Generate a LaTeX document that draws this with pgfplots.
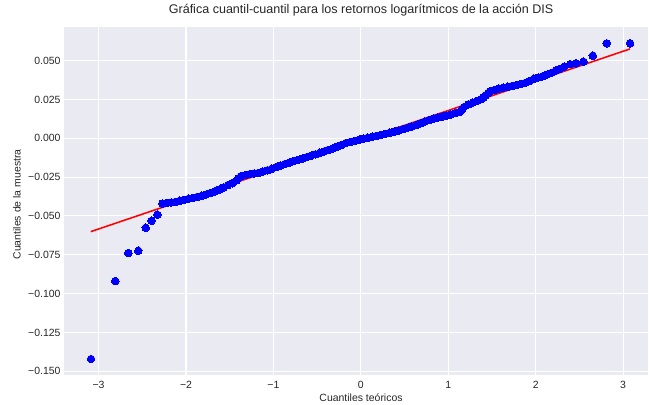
\documentclass[border=0pt]{standalone}
\usepackage{fontspec}
\setmainfont{Liberation Sans}
\usepackage{pgfplots}
\pgfplotsset{compat=1.18}
\definecolor{sbbg}{RGB}{234,234,242}
\definecolor{sbtext}{RGB}{38,38,38}
\begin{document}
\begin{tikzpicture}
\path (-64.5bp,-30bp) rectangle (584.5bp,375bp);
\begin{axis}[
  at={(0,0)}, anchor=south west,
  scale only axis, width=584bp, height=348bp,
  xmin=-3.39, xmax=3.29, ymin=-0.1524, ymax=0.0717,
  axis background/.style={fill=sbbg},
  axis line style={draw=none},
  major tick length=0pt,
  grid=major,
  major grid style={white, line width=1.05bp},
  xtick={-3,-2,-1,0,1,2,3},
  xticklabels={−3,−2,−1,0,1,2,3},
  ytick={-0.15,-0.125,-0.1,-0.075,-0.05,-0.025,0,0.025,0.05},
  yticklabels={−0.150,−0.125,−0.100,−0.075,−0.050,−0.025,0.000,0.025,0.050},
  tick label style={font=\fontsize{10.5}{12}\selectfont, text=sbtext},
  xticklabel style={anchor=north, inner sep=0pt, yshift=-6.5bp},
  yticklabel style={anchor=east, inner sep=0pt, xshift=-3.8bp},
  title={Gráfica cuantil-cuantil para los retornos logarítmicos de la acción DIS},
  title style={at={(axis description cs:0.5078,1)}, anchor=base, yshift=8bp, inner sep=0pt, font=\fontsize{12.6}{14}\selectfont, text=sbtext},
  xlabel={Cuantiles teóricos},
  xlabel style={at={(axis description cs:0.5078,0)}, anchor=base, yshift=-26.5bp, inner sep=0pt, font=\fontsize{10.5}{12}\selectfont, text=sbtext},
  ylabel={Cuantiles de la muestra},
  ylabel style={at={(axis description cs:-0.0751,0.49)}, anchor=base, rotate=0, inner sep=0pt, font=\fontsize{10.5}{12}\selectfont, text=sbtext},
  clip=true,
]
\addplot[blue, only marks, mark=*, mark size=3.8bp, mark options={solid, draw=blue, fill=blue, line width=0pt}] coordinates {
(-3.087,-0.1421) (-2.809,-0.0919) (-2.660,-0.0739) (-2.546,-0.0724)
(-2.461,-0.0576) (-2.393,-0.0531) (-2.328,-0.0492)
(-2.27,-0.0420) (-2.22,-0.0416) (-2.17,-0.0413) (-2.12,-0.0409)
(-2.07,-0.0402) (-2.02,-0.0396) (-1.97,-0.0389) (-1.92,-0.0383)
(-1.87,-0.0377) (-1.82,-0.0370) (-1.77,-0.0362) (-1.72,-0.0352)
(-1.67,-0.0341) (-1.62,-0.0330) (-1.57,-0.0316) (-1.52,-0.0301)
(-1.47,-0.0289) (-1.42,-0.0270) (-1.40,-0.0257) (-1.37,-0.0244)
(-1.32,-0.0236) (-1.27,-0.0230) (-1.22,-0.0226) (-1.17,-0.0222)
(-1.12,-0.0214) (-1.07,-0.0206) (-1.02,-0.0196) (-0.97,-0.0185)
(-0.92,-0.0176) (-0.87,-0.0166) (-0.82,-0.0157) (-0.77,-0.0147)
(-0.72,-0.0139) (-0.67,-0.0130) (-0.62,-0.0121) (-0.57,-0.0112)
(-0.52,-0.0103) (-0.47,-0.0093) (-0.42,-0.0084) (-0.37,-0.0074)
(-0.32,-0.0064) (-0.27,-0.0053) (-0.22,-0.0042) (-0.17,-0.0030)
(-0.12,-0.0023) (-0.07,-0.0016) (-0.02,-0.0009) (0.03,-0.0002)
(0.08,0.0004) (0.13,0.0010) (0.18,0.0016) (0.23,0.0022)
(0.28,0.0029) (0.33,0.0036) (0.38,0.0043) (0.43,0.0050)
(0.48,0.0059) (0.53,0.0067) (0.58,0.0076) (0.63,0.0085)
(0.68,0.0096) (0.73,0.0107) (0.78,0.0118) (0.83,0.0126)
(0.88,0.0133) (0.93,0.0140) (0.98,0.0147) (1.03,0.0154)
(1.08,0.0162) (1.13,0.0169) (1.16,0.0187) (1.18,0.0202)
(1.23,0.0219) (1.28,0.0230) (1.33,0.0241) (1.38,0.0253)
(1.40,0.0263) (1.43,0.0278) (1.46,0.0293) (1.48,0.0303)
(1.53,0.0312) (1.58,0.0320) (1.63,0.0326) (1.68,0.0332)
(1.73,0.0337) (1.78,0.0343) (1.83,0.0350) (1.88,0.0357)
(1.93,0.0369) (1.98,0.0384) (2.03,0.0392) (2.08,0.0400)
(2.13,0.0411) (2.18,0.0422) (2.23,0.0437) (2.27,0.0446)
(2.325,0.0461) (2.394,0.0478) (2.462,0.0483) (2.546,0.0493)
(2.653,0.0532) (2.813,0.0612) (3.080,0.0612)
};
\addplot[red, line width=1.55bp, no markers] coordinates {(-3.09,-0.0601) (3.08,0.0576)};
\end{axis}
\end{tikzpicture}
\end{document}
